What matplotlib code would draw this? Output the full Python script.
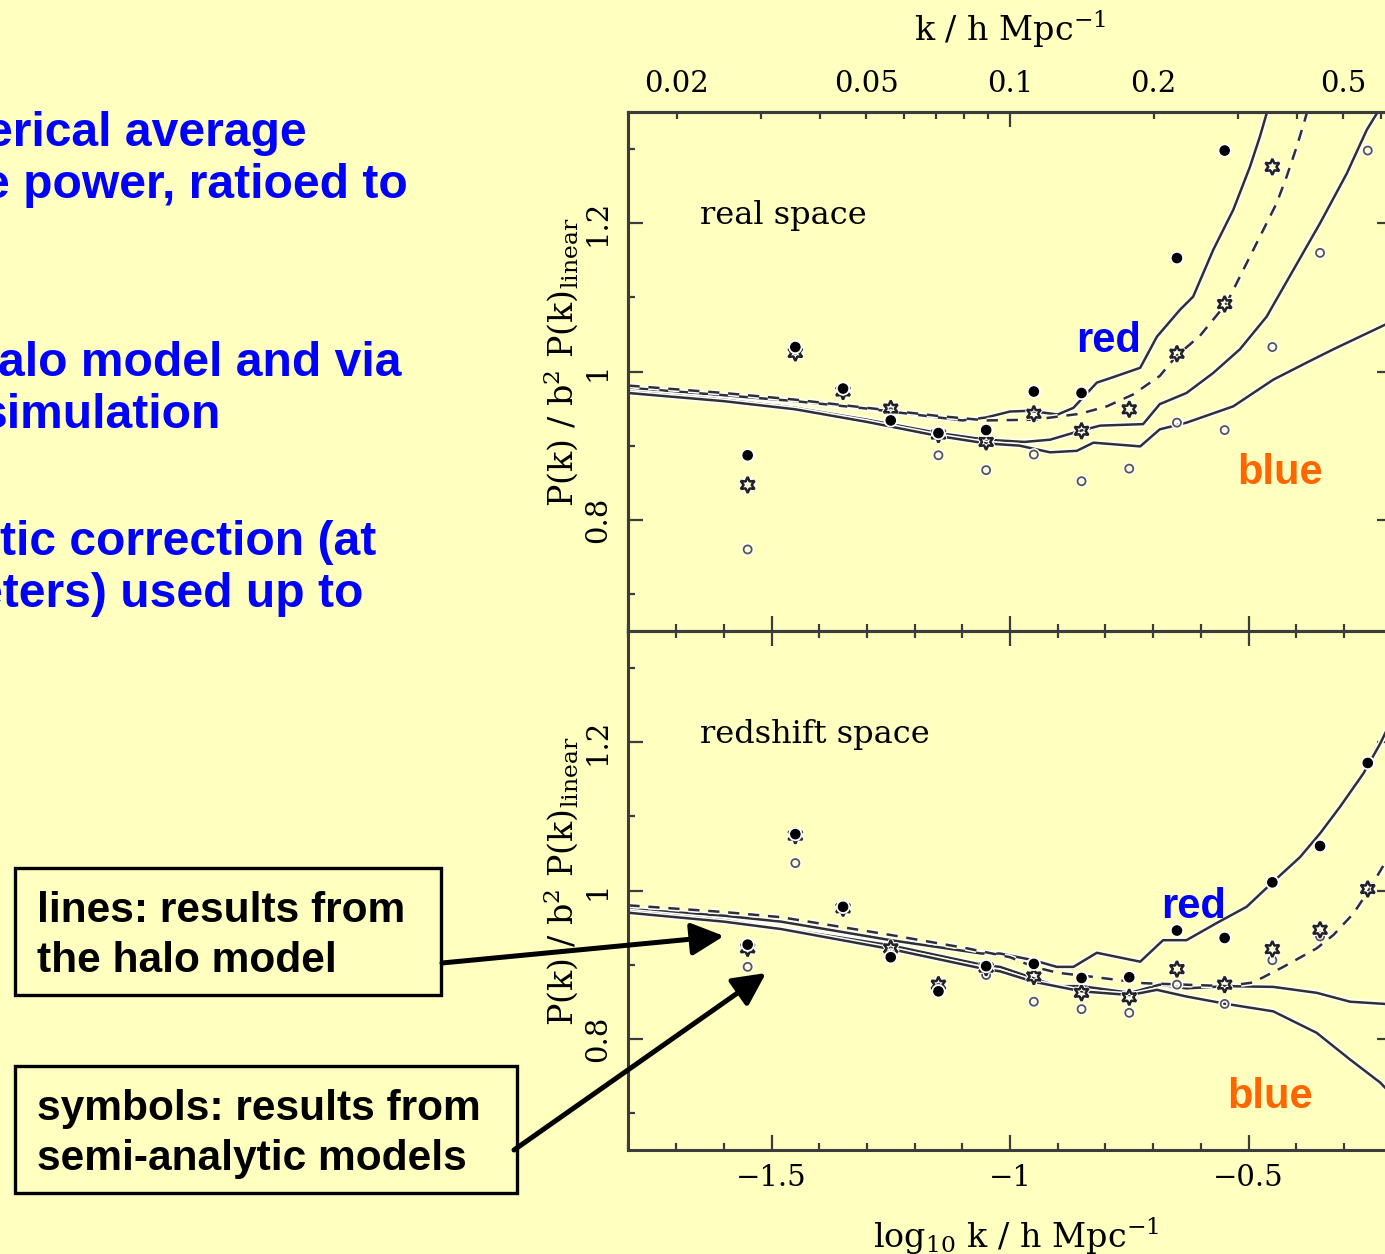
import numpy as np
import matplotlib
matplotlib.use("Agg")
import matplotlib.pyplot as plt
import matplotlib.patheffects as pe
from matplotlib.patches import Rectangle
from matplotlib.ticker import FixedLocator, FixedFormatter, MultipleLocator, NullFormatter

nan = np.nan

# ---------------------------------------------------------------- data
# semi-analytic measurements, one per log10 k bin
sam_logk = [-1.55, -1.45, -1.35, -1.25, -1.15, -1.05, -0.95, -0.85,
            -0.75, -0.65, -0.55, -0.45, -0.35, -0.25]

real_filled = [0.887, 1.033, 0.977, 0.934, 0.917, 0.921, 0.973, 0.971,
               nan, 1.153, 1.298, nan, nan, nan]
real_star = [0.847, 1.025, 0.973, 0.950, 0.915, 0.905, 0.943, 0.920,
             0.949, 1.024, 1.091, 1.276, nan, nan]
real_circle = [0.760, 1.027, 0.971, 0.945, 0.887, 0.867, 0.888, 0.852,
               0.869, 0.931, 0.921, 1.033, 1.160, 1.298]

z_filled = [0.927, 1.076, 0.978, 0.910, 0.864, 0.898, 0.901, 0.882,
            0.883, 0.946, 0.936, 1.011, 1.060, 1.172]
z_star = [0.922, 1.074, 0.976, 0.922, 0.873, 0.896, 0.884, 0.862,
          0.856, 0.894, 0.873, 0.921, 0.947, 1.002]
z_circle = [0.897, 1.037, 0.974, 0.918, 0.869, 0.886, 0.850, 0.840,
            0.835, 0.873, 0.847, 0.906, 0.938, nan]

# halo-model curves, real space
real_red_k = [-1.80, -1.60, -1.45, -1.30, -1.15, -1.10, -1.05, -1.00, -0.96, -0.90,
              -0.867, -0.818, -0.790, -0.727, -0.692, -0.644, -0.616, -0.574,
              -0.532, -0.497, -0.476, -0.462, -0.44]
real_red_v = [0.978, 0.968, 0.960, 0.950, 0.938, 0.934, 0.938, 0.946, 0.947, 0.942,
              0.951, 0.985, 0.991, 1.005, 1.047, 1.083, 1.101, 1.164,
              1.218, 1.276, 1.317, 1.348, 1.40]

real_dash_k = [-1.80, -1.60, -1.45, -1.30, -1.15, -1.05, -0.95, -0.853, -0.797,
               -0.742, -0.686, -0.651, -0.602, -0.546, -0.504, -0.469, -0.441,
               -0.420, -0.399, -0.382, -0.36]
real_dash_v = [0.981, 0.971, 0.962, 0.951, 0.940, 0.934, 0.935, 0.943, 0.953,
               0.969, 0.994, 1.021, 1.048, 1.092, 1.146, 1.191, 1.227,
               1.263, 1.303, 1.339, 1.39]

real_mid_k = [-1.80, -1.60, -1.45, -1.30, -1.15, -1.05, -0.97, -0.916, -0.853,
              -0.811, -0.721, -0.686, -0.630, -0.574, -0.518, -0.462, -0.406,
              -0.350, -0.294, -0.252, -0.231, -0.20]
real_mid_v = [0.973, 0.962, 0.951, 0.935, 0.917, 0.908, 0.905, 0.908, 0.920,
              0.927, 0.929, 0.956, 0.971, 0.998, 1.030, 1.074, 1.137,
              1.200, 1.267, 1.326, 1.348, 1.39]

real_blue_k = [-1.80, -1.60, -1.45, -1.30, -1.15, -1.05, -0.98, -0.916, -0.860,
               -0.825, -0.727, -0.686, -0.630, -0.532, -0.448, -0.378, -0.322,
               -0.214, -0.20]
real_blue_v = [0.971, 0.960, 0.949, 0.932, 0.913, 0.903, 0.900, 0.891, 0.893,
               0.904, 0.899, 0.922, 0.931, 0.953, 0.989, 1.012, 1.030,
               1.063, 1.067]

# halo-model curves, redshift space
z_red_k = [-1.80, -1.60, -1.48, -1.25, -1.06, -1.021, -0.951, -0.902, -0.867,
           -0.818, -0.727, -0.679, -0.630, -0.567, -0.504, -0.448, -0.392,
           -0.350, -0.308, -0.259, -0.224, -0.20]
z_red_v = [0.975, 0.966, 0.958, 0.933, 0.915, 0.915, 0.906, 0.897, 0.897,
           0.916, 0.904, 0.933, 0.933, 0.956, 0.978, 1.012, 1.045,
           1.077, 1.113, 1.158, 1.198, 1.23]

z_dash_k = [-1.80, -1.60, -1.48, -1.25, -1.09, -1.00, -0.95, -0.90, -0.832,
            -0.720, -0.546, -0.490, -0.427, -0.357, -0.322, -0.280, -0.252,
            -0.214, -0.20]
z_dash_v = [0.980, 0.971, 0.964, 0.940, 0.922, 0.910, 0.897, 0.889, 0.884,
            0.875, 0.871, 0.876, 0.897, 0.922, 0.940, 0.969, 0.996,
            1.037, 1.05]

z_mid_k = [-1.80, -1.60, -1.48, -1.25, -1.06, -1.021, -0.902, -0.850, -0.748,
           -0.686, -0.630, -0.546, -0.448, -0.357, -0.287, -0.214, -0.20]
z_mid_v = [0.972, 0.960, 0.949, 0.926, 0.900, 0.897, 0.871, 0.871, 0.862,
           0.873, 0.868, 0.871, 0.870, 0.862, 0.850, 0.847, 0.846]

z_blue_k = [-1.80, -1.60, -1.48, -1.25, -1.06, -1.021, -0.951, -0.850, -0.748,
            -0.692, -0.630, -0.546, -0.448, -0.357, -0.287, -0.224, -0.20]
z_blue_v = [0.970, 0.958, 0.948, 0.921, 0.895, 0.891, 0.877, 0.864, 0.859,
            0.866, 0.857, 0.847, 0.837, 0.808, 0.772, 0.741, 0.725]

# axis ticks
logk_major = [-1.5, -1.0, -0.5]
logk_labels = ["\u22121.5", "\u22121", "\u22120.5"]
k_major = [0.1]
k_major_labels = ["0.1"]
k_minor = [0.02, 0.03, 0.04, 0.05, 0.06, 0.07, 0.08, 0.09, 0.2, 0.3, 0.4, 0.5, 0.6]
k_minor_labels = ["0.02", "", "", "0.05", "", "", "", "", "0.2", "", "", "0.5", ""]
y_major = [0.8, 1.0, 1.2]
y_labels = ["0.8", "1", "1.2"]

# slide text
bullet_lines = ["erical average", "e power, ratioed to", "alo model and via",
                "simulation", "tic correction (at", "eters) used up to"]
box1_lines = ["lines: results from", "the halo model"]
box2_lines = ["symbols: results from", "semi-analytic models"]

# ---------------------------------------------------------------- style
W, H, DPI = 1385, 1254, 100
BG = "#FFFFC0"
FRAME = "#3c3c3c"
LINE = "#303030"
TICK_FS = 21
plt.rcParams["font.family"] = ["DejaVu Serif"]
plt.rcParams["mathtext.fontset"] = "dejavuserif"

fig = plt.figure(figsize=(W / DPI, H / DPI), dpi=DPI, facecolor=BG)


def px_axes(left, top, right, bottom):
    return fig.add_axes([left / W, 1 - bottom / H, (right - left) / W, (bottom - top) / H])


ax_r = px_axes(628.4, 112, 1391.6, 631)
ax_z = px_axes(628.4, 631, 1391.6, 1150)

halo_line = [pe.Stroke(linewidth=4.0, foreground="white"), pe.Normal()]
halo_mark = [pe.Stroke(linewidth=3.4, foreground="white"), pe.Normal()]


def style_panel(ax):
    ax.set_facecolor(BG)
    ax.set_xlim(-1.8, -0.2)
    ax.set_ylim(0.65, 1.35)
    ax.xaxis.set_major_locator(FixedLocator(logk_major))
    ax.xaxis.set_minor_locator(MultipleLocator(0.1))
    ax.yaxis.set_major_locator(FixedLocator(y_major))
    ax.yaxis.set_minor_locator(MultipleLocator(0.1))
    ax.set_yticklabels(y_labels, rotation=90, va="center", fontsize=TICK_FS)
    ax.tick_params(which="both", direction="in", top=True, right=True,
                   color=FRAME, width=1.6, pad=12)
    ax.tick_params(which="major", length=11)
    ax.tick_params(which="minor", length=5)
    for s in ax.spines.values():
        s.set_linewidth(2.2)
        s.set_color(FRAME)
    ax.text(-0.0885, 0.517, r"P(k) / b$^2$ P(k)$_{\rm linear}$", rotation=90,
            ha="center", va="center", fontsize=24, transform=ax.transAxes)


def draw_panel(ax, curves, dashed, filled, star, circle):
    for kk, vv in curves:
        ax.plot(kk, vv, color=LINE, lw=1.8, path_effects=halo_line, zorder=2)
    kk, vv = dashed
    ax.plot(kk, vv, color=LINE, lw=1.8, ls=(0, (4.5, 3.5)),
            path_effects=halo_line, zorder=2)
    ax.plot(sam_logk, circle, ls="none", marker="o", ms=5.8, mfc="none",
            mec="#555555", mew=1.3, path_effects=halo_mark, zorder=3)
    ax.plot(sam_logk, star, ls="none", marker=(6, 1, 0), ms=11.5, mfc="none",
            mec="#222222", mew=1.8, path_effects=halo_mark, zorder=4)
    ax.plot(sam_logk, filled, ls="none", marker="o", ms=6.8, mfc="black",
            mec="black", mew=0.8, path_effects=halo_mark, zorder=5)


style_panel(ax_r)
style_panel(ax_z)

draw_panel(ax_r,
           [(real_red_k, real_red_v), (real_mid_k, real_mid_v), (real_blue_k, real_blue_v)],
           (real_dash_k, real_dash_v), real_filled, real_star, real_circle)
draw_panel(ax_z,
           [(z_red_k, z_red_v), (z_mid_k, z_mid_v), (z_blue_k, z_blue_v)],
           (z_dash_k, z_dash_v), z_filled, z_star, z_circle)

ax_r.text(0.094, 0.80, "real space", transform=ax_r.transAxes, fontsize=23,
          ha="left", va="center")
ax_z.text(0.094, 0.80, "redshift space", transform=ax_z.transAxes, fontsize=23,
          ha="left", va="center")

# upper panel: no bottom labels, k scale along the top
ax_r.tick_params(top=False, labelbottom=False)
ax_k = ax_r.twiny()
ax_k.set_xlim(ax_r.get_xlim())
ax_k.xaxis.set_major_locator(FixedLocator(np.log10(k_major)))
ax_k.xaxis.set_major_formatter(FixedFormatter(k_major_labels))
ax_k.xaxis.set_minor_locator(FixedLocator(np.log10(k_minor)))
ax_k.xaxis.set_minor_formatter(FixedFormatter(k_minor_labels))
ax_k.tick_params(which="both", direction="in", color=FRAME, width=1.6,
                 pad=10, labelsize=TICK_FS)
ax_k.tick_params(which="major", length=11)
ax_k.tick_params(which="minor", length=5)
for s in ax_k.spines.values():
    s.set_linewidth(2.2)
    s.set_color(FRAME)
ax_k.set_xlabel(r"k / h Mpc$^{-1}$", fontsize=24, labelpad=21)

# lower panel: log k labels along the bottom
ax_z.set_xticklabels(logk_labels, fontsize=TICK_FS)
ax_z.xaxis.set_minor_formatter(NullFormatter())
ax_z.tick_params(axis="x", pad=10)
ax_z.set_xlabel(r"log$_{10}$ k / h Mpc$^{-1}$", fontsize=24, labelpad=17)
ax_z.xaxis.label.set_x(0.508)

# ---------------------------------------------------------------- slide layer
ov = fig.add_axes([0, 0, 1, 1])
ov.set_xlim(0, W)
ov.set_ylim(H, 0)
ov.axis("off")
ov.patch.set_alpha(0)

sans = ["Liberation Sans", "DejaVu Sans"]
# right end and baseline of each bullet line
bullet_pos = [(307, 146), (408, 198), (401, 376), (221, 428), (376, 555), (363, 607)]
for (x, y), s in zip(bullet_pos, bullet_lines):
    ov.text(x, y, s, family=sans, fontsize=34.6, fontweight="bold", color="#0000FF",
            ha="right", va="baseline")

ov.text(1076, 352, "red", family=sans, fontsize=30, fontweight="bold", color="#0000FF", va="baseline")
ov.text(1237, 484, "blue", family=sans, fontsize=30, fontweight="bold", color="#FF6600", va="baseline")
ov.text(1161, 918, "red", family=sans, fontsize=30, fontweight="bold", color="#0000FF", va="baseline")
ov.text(1227, 1108, "blue", family=sans, fontsize=30, fontweight="bold", color="#FF6600", va="baseline")

ov.add_patch(Rectangle((15, 868), 426, 127, fill=False, ec="black", lw=2.4))
ov.add_patch(Rectangle((15, 1066), 502, 127, fill=False, ec="black", lw=2.4))
for y, s in zip([922, 972], box1_lines):
    ov.text(37, y, s, family=sans, fontsize=30.6, fontweight="bold", color="black", va="baseline")
for y, s in zip([1120, 1170], box2_lines):
    ov.text(37, y, s, family=sans, fontsize=30.6, fontweight="bold", color="black", va="baseline")

arrow = dict(arrowstyle="-|>,head_length=0.9,head_width=0.45", lw=3.6, color="black",
             shrinkA=0, shrinkB=0, mutation_scale=22)
ov.annotate("", xy=(724, 936), xytext=(442, 963), arrowprops=arrow)
ov.annotate("", xy=(766, 973), xytext=(514, 1150), arrowprops=arrow)

fig.savefig("out.png", dpi=DPI, facecolor=BG)
